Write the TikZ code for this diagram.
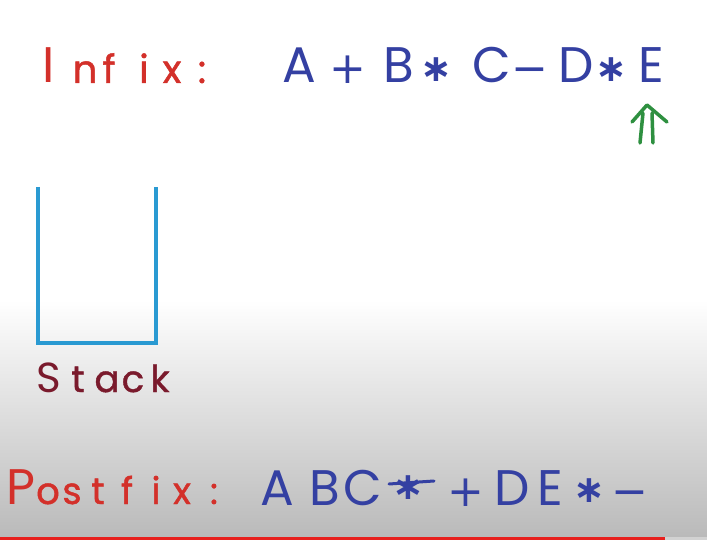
\documentclass[tikz,border=0pt]{standalone}
\usepackage{fontspec}
\setmainfont{Poppins}
\newfontfamily\lowfam{Poppins}[FakeBold=1.2]
\newfontfamily\symf{DejaVu Sans}
\definecolor{inkred}{HTML}{D3302A}
\definecolor{inkblue}{HTML}{3440A2}
\definecolor{inkgreen}{HTML}{2E9040}
\definecolor{inkcyan}{HTML}{2A9AD2}
\definecolor{inkmaroon}{HTML}{7A1A2C}
\definecolor{fadegray}{HTML}{B9B9B9}
\definecolor{barred}{HTML}{E8201E}
\begin{document}
\begin{tikzpicture}[x=1pt,y=-1pt,
  ch/.style={anchor=base, inner sep=0pt},
  capf/.style={ch, font=\fontsize{50}{50}\selectfont},
  lowf/.style={ch, font=\lowfam\fontsize{39}{39}\selectfont},
  scapf/.style={ch, font=\fontsize{42}{42}\selectfont},
  slowf/.style={ch, font=\lowfam\fontsize{37}{37}\selectfont},
  opf/.style={ch, font=\symf\fontsize{44}{44}\selectfont},
  starf/.style={ch, font=\symf\bfseries\fontsize{38}{38}\selectfont},
  stackline/.style={draw=inkcyan, line width=3.5pt, line join=miter},
  arrowline/.style={draw=inkgreen, line width=3.5pt, line cap=round, line join=round}]
% background
\useasboundingbox (0,0) rectangle (707,540);
\fill[white] (0,0) rectangle (707,300);
\shade[top color=white, bottom color=fadegray] (0,300) rectangle (707,540);
\fill[barred] (0,536.5) rectangle (665,540);
\fill[gray!35] (665,536.5) rectangle (707,540);
% Infix label
\foreach \c/\x/\s [count=\i] in {I/49/capf, n/85/lowf, f/109/lowf, i/144/lowf, x/172/lowf, :/202/lowf}
  \node[\s, text=inkred] (inlab\i) at (\x,83) {\c};
% Infix expression
\node[capf, text=inkblue] (ia) at (299,83) {A};
\node[opf, text=inkblue] (ip1) at (348,84) {+};
\node[capf, text=inkblue] (ib) at (399,83) {B};
\node[starf, text=inkblue] (is1) at (436,82) {∗};
\node[capf, text=inkblue] (ic) at (492,83) {C};
\node[opf, text=inkblue] (im1) at (530,84) {−};
\node[capf, text=inkblue] (id) at (576,83) {D};
\node[starf, text=inkblue] (is2) at (611,82) {∗};
\node[capf, text=inkblue] (ie) at (651,83) {E};
% green double arrow
\coordinate (arrtop) at (647,105);
\draw[arrowline] (632,122) -- (arrtop) -- (667,122);
\draw[arrowline] (643,113) -- (640,143);
\draw[arrowline] (652,113) -- (653,143);
% Stack
\coordinate (stl) at (38,187);
\coordinate (stbl) at (38,343);
\coordinate (stbr) at (156,343);
\coordinate (str) at (156,187);
\draw[stackline] (stl) -- (stbl) -- (stbr) -- (str);
\foreach \c/\x/\s [count=\i] in {S/49/scapf, t/78/slowf, a/107/slowf, c/133/slowf, k/160/slowf}
  \node[\s, text=inkmaroon] (stk\i) at (\x,392) {\c};
% Postfix label
\foreach \c/\x/\s [count=\i] in {P/21/capf, o/48/slowf, s/72/slowf, t/98/slowf, f/127/slowf, i/156/slowf, x/182/slowf, :/214/slowf}
  \node[\s, text=inkred] (pflab\i) at (\x,504) {\c};
% Postfix expression
\node[capf, text=inkblue] (pa) at (277,505) {A};
\node[capf, text=inkblue] (pb) at (325,505) {B};
\node[capf, text=inkblue] (pc) at (363,505) {C};
\node[starf, text=inkblue] (ps1) at (408,499) {∗};
\draw[inkblue, line width=3pt, line cap=round] (389,484) -- (434,481);
\node[opf, text=inkblue] (pp) at (466,506) {+};
\node[capf, text=inkblue] (pd) at (512,505) {D};
\node[capf, text=inkblue] (pe) at (550,505) {E};
\node[starf, text=inkblue] (ps2) at (589,502) {∗};
\node[opf, text=inkblue] (pm) at (630,506) {−};
\end{tikzpicture}
\end{document}
